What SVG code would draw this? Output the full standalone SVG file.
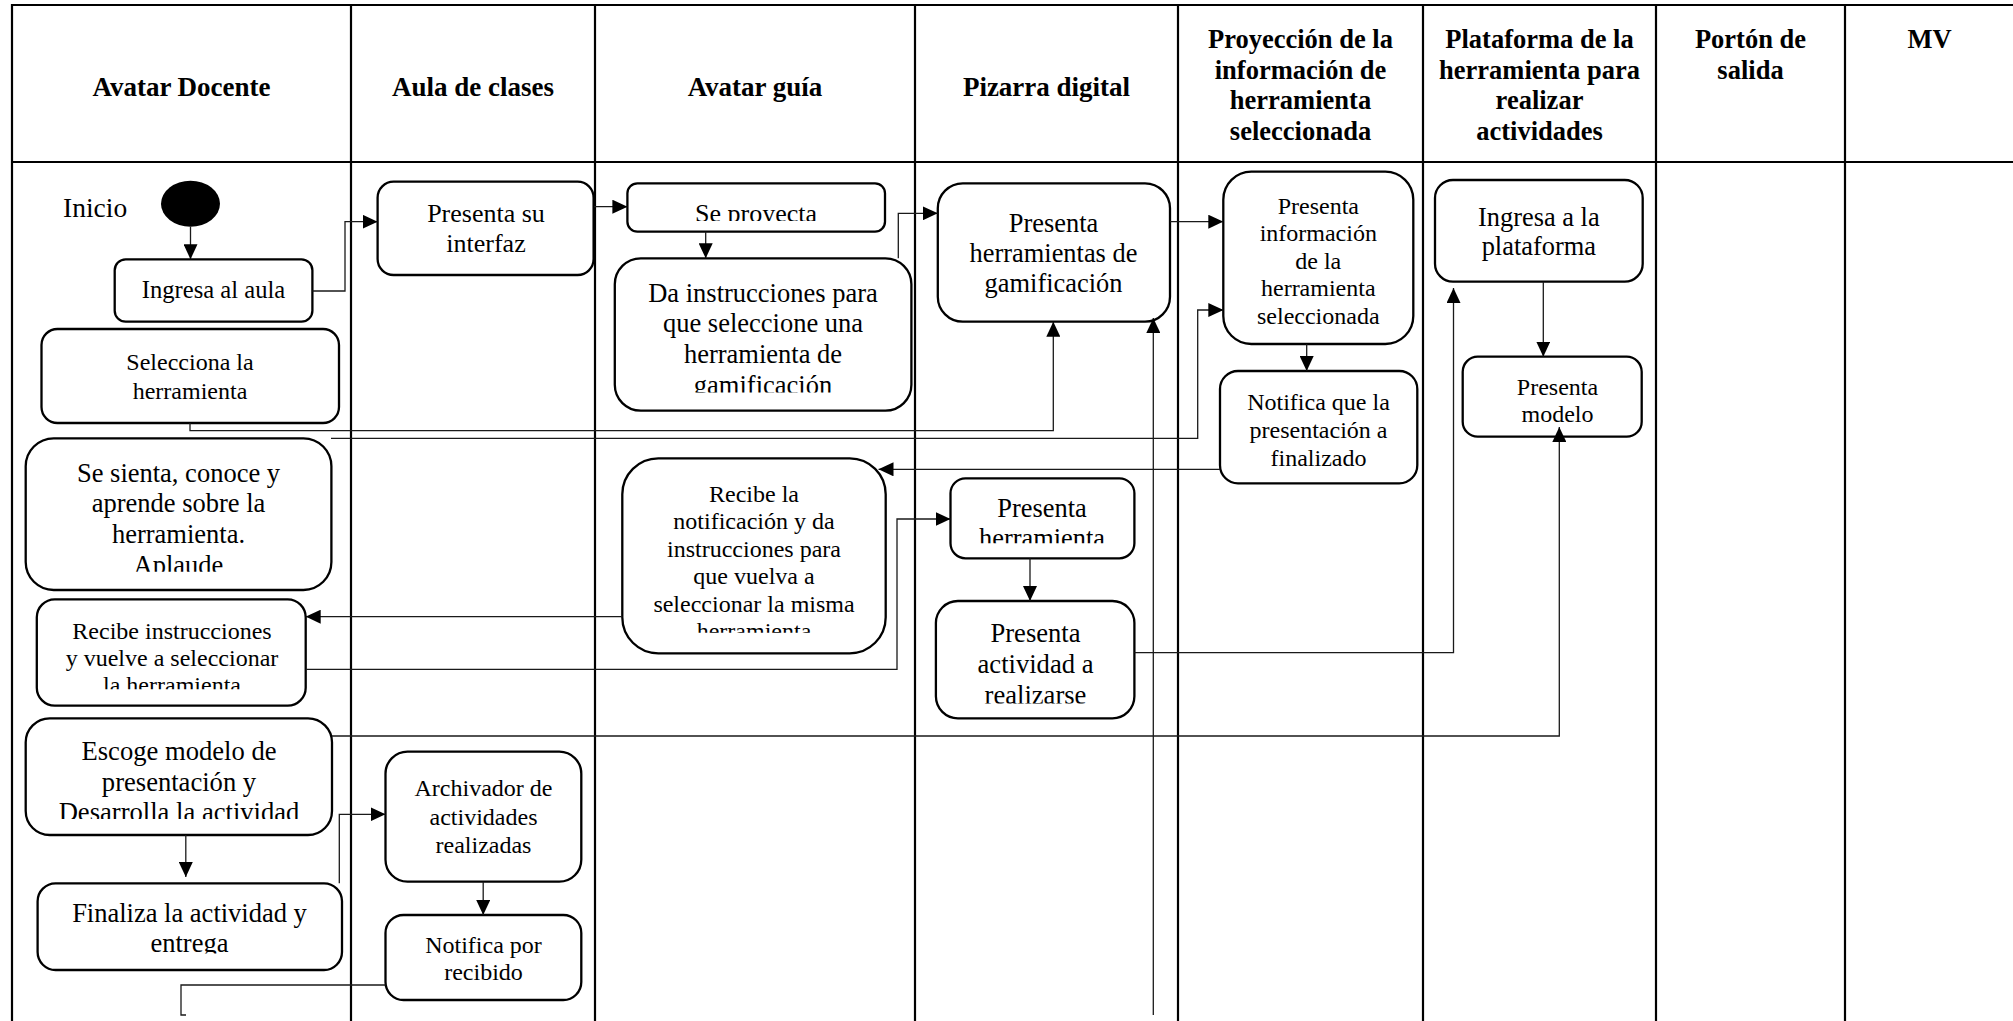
<svg xmlns="http://www.w3.org/2000/svg" width="2013" height="1021" viewBox="0 0 2013 1021">
<style>
.lane{stroke:#000;stroke-width:2.2;fill:none}
.box{fill:#fff;stroke:#000;stroke-width:2.3}
.conn{fill:none;stroke:#1a1a1a;stroke-width:1.3}
.arr{marker-end:url(#ah)}
.h{font-family:"Liberation Serif","Times New Roman",serif;font-weight:bold;font-size:27px;text-anchor:middle;fill:#000}
.hm{font-size:26.5px}
.t{font-family:"Liberation Serif","Times New Roman",serif;text-anchor:middle;fill:#000}
.s24{font-size:24px}
.s26{font-size:26.4px}
</style>
<defs>
<marker id="ah" markerWidth="15" markerHeight="14" refX="15" refY="7" orient="auto" markerUnits="userSpaceOnUse">
<path d="M0,0 L15,7 L0,14 z" fill="#000"/>
</marker>
<clipPath id="cp-proy" clipPathUnits="userSpaceOnUse"><rect x="600" y="180" width="300" height="41"/></clipPath>
<clipPath id="cp-da" clipPathUnits="userSpaceOnUse"><rect x="600" y="260" width="320" height="132.5"/></clipPath>
<clipPath id="cp-sienta" clipPathUnits="userSpaceOnUse"><rect x="20" y="440" width="320" height="131.7"/></clipPath>
<clipPath id="cp-recins" clipPathUnits="userSpaceOnUse"><rect x="30" y="600" width="290" height="89.3"/></clipPath>
<clipPath id="cp-recnot" clipPathUnits="userSpaceOnUse"><rect x="620" y="460" width="270" height="172.7"/></clipPath>
<clipPath id="cp-presh" clipPathUnits="userSpaceOnUse"><rect x="940" y="480" width="200" height="63.3"/></clipPath>
<clipPath id="cp-act" clipPathUnits="userSpaceOnUse"><rect x="930" y="602" width="210" height="101.5"/></clipPath>
<clipPath id="cp-esc" clipPathUnits="userSpaceOnUse"><rect x="20" y="720" width="320" height="99"/></clipPath>
<clipPath id="cp-fin" clipPathUnits="userSpaceOnUse"><rect x="30" y="885" width="320" height="68.5"/></clipPath>
</defs>
<rect x="0" y="0" width="2013" height="1021" fill="#fff"/>

<g id="lanes">
<line class="lane" x1="12" y1="5" x2="2013" y2="5"/>
<line class="lane" x1="12" y1="162" x2="2013" y2="162"/>
<line class="lane" x1="12" y1="4" x2="12" y2="1021"/>
<line class="lane" x1="351" y1="4" x2="351" y2="1021"/>
<line class="lane" x1="595" y1="4" x2="595" y2="1021"/>
<line class="lane" x1="915" y1="4" x2="915" y2="1021"/>
<line class="lane" x1="1178" y1="4" x2="1178" y2="1021"/>
<line class="lane" x1="1423" y1="4" x2="1423" y2="1021"/>
<line class="lane" x1="1656" y1="4" x2="1656" y2="1021"/>
<line class="lane" x1="1845" y1="4" x2="1845" y2="1021"/>
<text class="h" x="181.5" y="96">Avatar Docente</text>
<text class="h" x="473" y="96">Aula de clases</text>
<text class="h" x="755" y="96">Avatar guía</text>
<text class="h" x="1046.5" y="96">Pizarra digital</text>
<text class="h hm"><tspan x="1300.5" y="48.3">Proyección de la</tspan><tspan x="1300.5" y="78.7">información de</tspan><tspan x="1300.5" y="109.1">herramienta</tspan><tspan x="1300.5" y="139.5">seleccionada</tspan></text>
<text class="h hm"><tspan x="1539.5" y="48.3">Plataforma de la</tspan><tspan x="1539.5" y="78.7">herramienta para</tspan><tspan x="1539.5" y="109.1">realizar</tspan><tspan x="1539.5" y="139.5">actividades</tspan></text>
<text class="h hm"><tspan x="1750.5" y="48.3">Portón de</tspan><tspan x="1750.5" y="78.7">salida</tspan></text>
<text class="h hm" x="1929.5" y="48.3">MV</text>
</g>

<g id="n-inicio">
<ellipse cx="190.5" cy="203.7" rx="29.5" ry="23" fill="#000"/>
<text class="t" style="font-size:27.5px;text-anchor:start" x="63" y="217">Inicio</text>
</g>
<g id="n-ingresa-aula">
<rect class="box" x="114.7" y="259.3" width="197.7" height="62.4" rx="11"/>
<text class="t" style="font-size:24.6px" x="213.5" y="298.3">Ingresa al aula</text>
</g>
<g id="n-presenta-interfaz">
<rect class="box" x="377.6" y="181.7" width="216" height="93.3" rx="16"/>
<text class="t" style="font-size:26px"><tspan x="486" y="221.7">Presenta su</tspan><tspan x="486" y="251.7">interfaz</tspan></text>
</g>
<g id="n-se-proyecta">
<rect class="box" x="627.4" y="183.3" width="257.6" height="48.4" rx="10"/>
<text class="t" style="font-size:26px" x="756" y="222" clip-path="url(#cp-proy)">Se proyecta</text>
</g>
<g id="n-selecciona">
<rect class="box" x="41.5" y="329" width="297.5" height="94" rx="16"/>
<text class="t s24"><tspan x="190" y="370">Selecciona la</tspan><tspan x="190" y="399.3">herramienta</tspan></text>
</g>
<g id="n-da-instrucciones">
<rect class="box" x="614.8" y="258.3" width="296.6" height="152.4" rx="26"/>
<text class="t" style="font-size:26.5px" clip-path="url(#cp-da)"><tspan x="763" y="301.5">Da instrucciones para</tspan><tspan x="763" y="332.2">que seleccione una</tspan><tspan x="763" y="363">herramienta de</tspan><tspan x="763" y="393.8">gamificación</tspan></text>
</g>
<g id="n-presenta-herramientas">
<rect class="box" x="937.8" y="183.3" width="232.2" height="138.4" rx="25"/>
<text class="t s26"><tspan x="1053.5" y="231.7">Presenta</tspan><tspan x="1053.5" y="261.7">herramientas de</tspan><tspan x="1053.5" y="291.7">gamificación</tspan></text>
</g>
<g id="n-presenta-informacion">
<rect class="box" x="1223.3" y="171.7" width="190" height="172.3" rx="28"/>
<text class="t s24"><tspan x="1318.3" y="213.5">Presenta</tspan><tspan x="1318.3" y="241">información</tspan><tspan x="1318.3" y="268.5">de la</tspan><tspan x="1318.3" y="296">herramienta</tspan><tspan x="1318.3" y="323.5">seleccionada</tspan></text>
</g>
<g id="n-notifica-finalizado">
<rect class="box" x="1220" y="371" width="197.3" height="112.3" rx="18"/>
<text class="t s24"><tspan x="1318.5" y="410">Notifica que la</tspan><tspan x="1318.5" y="438">presentación a</tspan><tspan x="1318.5" y="465.5">finalizado</tspan></text>
</g>
<g id="n-ingresa-plataforma">
<rect class="box" x="1435" y="180" width="207.7" height="101.7" rx="18"/>
<text class="t s26"><tspan x="1538.8" y="226">Ingresa a la</tspan><tspan x="1538.8" y="255">plataforma</tspan></text>
</g>
<g id="n-presenta-modelo">
<rect class="box" x="1462.7" y="356.7" width="179" height="80" rx="15"/>
<text class="t s24"><tspan x="1557.5" y="395">Presenta</tspan><tspan x="1557.5" y="421.7">modelo</tspan></text>
</g>
<g id="n-se-sienta">
<rect class="box" x="25.7" y="438.3" width="305.7" height="151.7" rx="28"/>
<text class="t" style="font-size:26.5px" clip-path="url(#cp-sienta)"><tspan x="178.5" y="481.5">Se sienta, conoce y</tspan><tspan x="178.5" y="512.3">aprende sobre la</tspan><tspan x="178.5" y="543.1">herramienta.</tspan><tspan x="178.5" y="573.9">Aplaude</tspan></text>
</g>
<g id="n-recibe-instrucciones">
<rect class="box" x="36.8" y="599.3" width="268.9" height="106.4" rx="18"/>
<text class="t s24" clip-path="url(#cp-recins)"><tspan x="172" y="639">Recibe instrucciones</tspan><tspan x="172" y="666">y vuelve a seleccionar</tspan><tspan x="172" y="693">la herramienta</tspan></text>
</g>
<g id="n-recibe-notificacion">
<rect class="box" x="622.3" y="458.3" width="263.4" height="195" rx="36"/>
<text class="t s24" clip-path="url(#cp-recnot)"><tspan x="754" y="501.7">Recibe la</tspan><tspan x="754" y="529.2">notificación y da</tspan><tspan x="754" y="556.8">instrucciones para</tspan><tspan x="754" y="584.3">que vuelva a</tspan><tspan x="754" y="611.8">seleccionar la misma</tspan><tspan x="754" y="639.3">herramienta</tspan></text>
</g>
<g id="n-presenta-herramienta">
<rect class="box" x="950.5" y="478.3" width="183.9" height="80" rx="15"/>
<text class="t s26" clip-path="url(#cp-presh)"><tspan x="1042" y="517.3">Presenta</tspan><tspan x="1042" y="547.3">herramienta</tspan></text>
</g>
<g id="n-presenta-actividad">
<rect class="box" x="935.9" y="601" width="198.5" height="117.3" rx="22"/>
<text class="t" style="font-size:26.6px" clip-path="url(#cp-act)"><tspan x="1035.5" y="642">Presenta</tspan><tspan x="1035.5" y="673">actividad a</tspan><tspan x="1035.5" y="704">realizarse</tspan></text>
</g>
<g id="n-escoge-modelo">
<rect class="box" x="25.7" y="718.3" width="306.3" height="116.7" rx="24"/>
<text class="t" style="font-size:26.6px" clip-path="url(#cp-esc)"><tspan x="179" y="760">Escoge modelo de</tspan><tspan x="179" y="790.5">presentación y</tspan><tspan x="179" y="821">Desarrolla la actividad</tspan></text>
</g>
<g id="n-finaliza">
<rect class="box" x="37.6" y="883.3" width="304.4" height="86.7" rx="18"/>
<text class="t" style="font-size:26.5px" clip-path="url(#cp-fin)"><tspan x="189.5" y="921.7">Finaliza la actividad y</tspan><tspan x="189.5" y="951.7">entrega</tspan></text>
</g>
<g id="n-archivador">
<rect class="box" x="385.5" y="751.7" width="195.8" height="130" rx="22"/>
<text class="t s24"><tspan x="483.5" y="796">Archivador de</tspan><tspan x="483.5" y="824.5">actividades</tspan><tspan x="483.5" y="853">realizadas</tspan></text>
</g>
<g id="n-notifica-recibido">
<rect class="box" x="385.5" y="915" width="195.8" height="85" rx="18"/>
<text class="t s24"><tspan x="483.5" y="953.3">Notifica por</tspan><tspan x="483.5" y="980">recibido</tspan></text>
</g>

<g id="connectors">
<path class="conn arr" d="M190.5 226.7 V259.3"/>
<path class="conn arr" d="M312.4 291 H345 V221.7 H377.6"/>
<path class="conn arr" d="M594 206.7 H627.4"/>
<path class="conn arr" d="M705.7 231.7 V258.3"/>
<path class="conn arr" d="M898.3 258.3 V213.3 H937.8"/>
<path class="conn arr" d="M1170 221.7 H1223.3"/>
<path class="conn arr" d="M190 423 V430.7 H1053.3 V321.7"/>
<path class="conn arr" d="M331 438.3 H1197.7 V310 H1223.3"/>
<path class="conn arr" d="M1306.7 344 V371"/>
<path class="conn arr" d="M1220 469.3 H878.5"/>
<path class="conn arr" d="M622.3 616.7 H305.7"/>
<path class="conn arr" d="M305.7 669.3 H897 V519 H950.5"/>
<path class="conn arr" d="M1030 558.3 V601"/>
<path class="conn arr" d="M1134.4 652.7 H1453.5 V288"/>
<path class="conn arr" d="M1543.3 281.7 V356.7"/>
<path class="conn arr" d="M332 736 H1559.3 V427"/>
<path class="conn arr" d="M185.8 835 V877"/>
<path class="conn arr" d="M339.3 883.3 V814.3 H385.5"/>
<path class="conn arr" d="M483.2 881.7 V915"/>
<path class="conn" d="M385.5 985 H181 V1015 H186"/>
<path class="conn arr" d="M1153.3 1015 V318"/>
</g>
</svg>
